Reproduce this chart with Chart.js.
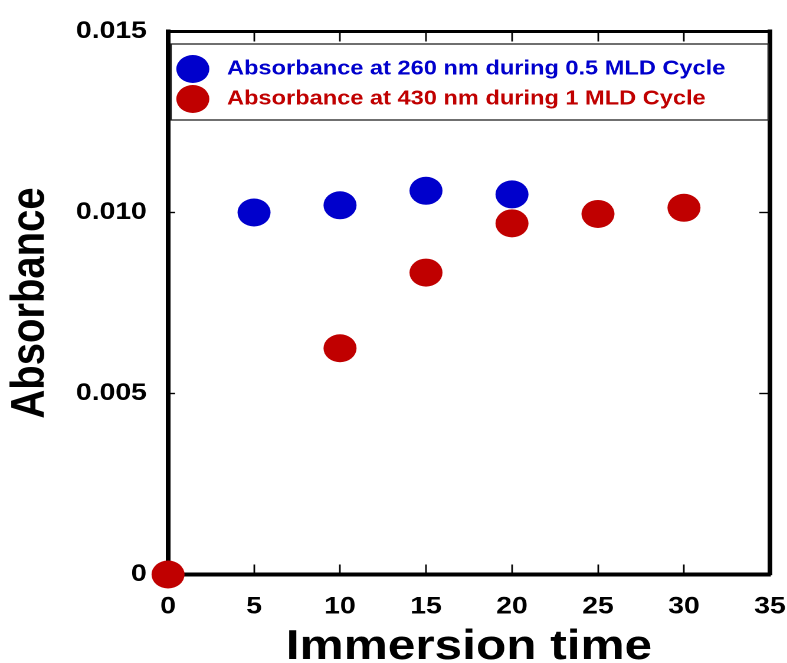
<!DOCTYPE html>
<html>
<head>
<meta charset="utf-8">
<script src="https://cdn.jsdelivr.net/npm/chart.js@4/dist/chart.umd.min.js"></script>
<style>
  html, body { margin: 0; padding: 0; background: #fff; overflow: hidden; }
  /* the original figure is stretched sideways, so draw narrow and stretch */
  #wrap { width: 667px; height: 663px; transform: scaleX(1.18); transform-origin: 0 0; }
</style>
</head>
<body>
<div id="wrap"><canvas id="absChart"></canvas></div>
<script>
// data
const times260 = [5, 10, 15, 20];
const abs260 = [0.0100, 0.0102, 0.0106, 0.0105];
const times430 = [0, 10, 15, 20, 25, 30];
const abs430 = [0, 0.00625, 0.00834, 0.0097, 0.00996, 0.01013];

const label260 = 'Absorbance at 260 nm during 0.5 MLD Cycle';
const label430 = 'Absorbance at 430 nm during 1 MLD Cycle';

const xTickLabels = ['0', '5', '10', '15', '20', '25', '30', '35'];
const yTickLabels = ['0', '0.005', '0.010', '0.015'];

const toPoints = (xs, ys) => xs.map((x, i) => ({ x: x, y: ys[i] }));

Chart.defaults.font.family = '"Liberation Sans", Arial, sans-serif';
Chart.defaults.font.weight = 'bold';
Chart.defaults.color = '#000';

// fixed axis sizes, and no extra room for the end labels
const fixSize = (w, h) => s => {
  if (w !== null) s.width = w;
  if (h !== null) s.height = h;
  s.paddingLeft = s.paddingRight = s.paddingTop = s.paddingBottom = 0;
};

// legend in a white box inside the plot frame
const boxLegend = {
  id: 'boxLegend',
  afterDatasetsDraw(chart) {
    const { ctx, chartArea } = chart;
    const left = chartArea.left + 2.5;
    const right = chartArea.right - 1.5;
    ctx.save();
    ctx.fillStyle = '#fff';
    ctx.fillRect(left, 44, right - left, 76);
    ctx.strokeStyle = '#222';
    ctx.lineWidth = 1.3;
    ctx.strokeRect(left, 44, right - left, 76);
    ctx.font = 'bold 20px "Liberation Sans", Arial, sans-serif';
    ctx.textBaseline = 'middle';
    chart.data.datasets.forEach((ds, i) => {
      const y = 69 + i * 30;
      ctx.fillStyle = ds.backgroundColor;
      ctx.beginPath();
      ctx.arc(chartArea.left + 21, y, 14, 0, Math.PI * 2);
      ctx.fill();
      ctx.fillText(ds.label, chartArea.left + 50, y);
    });
    ctx.restore();
  }
};

const ctx = document.getElementById('absChart').getContext('2d');
new Chart(ctx, {
  type: 'scatter',
  data: {
    datasets: [
      {
        label: label260,
        data: toPoints(times260, abs260),
        backgroundColor: '#0000cc',
        borderWidth: 0,
        pointRadius: 14,
        pointHoverRadius: 14,
        clip: false
      },
      {
        label: label430,
        data: toPoints(times430, abs430),
        backgroundColor: '#c00000',
        borderWidth: 0,
        pointRadius: 14,
        pointHoverRadius: 14,
        clip: false
      }
    ]
  },
  options: {
    responsive: true,
    maintainAspectRatio: false,
    devicePixelRatio: 2,
    animation: false,
    layout: { padding: 0 },
    plugins: {
      legend: { display: false },
      tooltip: { enabled: false }
    },
    scales: {
      x: {
        type: 'linear',
        position: 'bottom',
        min: 0,
        max: 35,
        ticks: {
          stepSize: 5,
          padding: 28,
          font: { size: 24, weight: 'bold' },
          callback: (v, i) => xTickLabels[i]
        },
        grid: { drawOnChartArea: false, tickLength: -10, tickColor: '#000', tickWidth: 1.4 },
        border: { display: true, color: '#000', width: 4 },
        title: {
          display: true,
          text: 'Immersion time',
          font: { size: 42, weight: 'bold', lineHeight: 0.75 },
          padding: 0
        },
        afterFit: fixSize(null, 88.5)
      },
      x2: {
        type: 'linear',
        position: 'top',
        min: 0,
        max: 35,
        ticks: { stepSize: 5, display: false },
        grid: { drawOnChartArea: false, tickLength: -10, tickColor: '#000', tickWidth: 1.4 },
        border: { display: true, color: '#000', width: 3 },
        afterFit: fixSize(null, 31.5)
      },
      y: {
        type: 'linear',
        position: 'left',
        min: 0,
        max: 0.015,
        ticks: {
          stepSize: 0.005,
          padding: 24,
          font: { size: 24, weight: 'bold' },
          callback: (v, i) => yTickLabels[i]
        },
        grid: { drawOnChartArea: false, tickLength: -6, tickColor: '#000', tickWidth: 1.4 },
        border: { display: true, color: '#000', width: 4 },
        title: {
          display: true,
          text: 'Absorbance',
          font: { size: 40, weight: 'bold', lineHeight: 1.3 },
          padding: 0
        },
        afterFit: fixSize(142.4, null)
      },
      y2: {
        type: 'linear',
        position: 'right',
        min: 0,
        max: 0.015,
        ticks: { stepSize: 0.005, display: false },
        grid: { drawOnChartArea: false, tickLength: -9, tickColor: '#000', tickWidth: 1.4 },
        border: { display: true, color: '#000', width: 4 },
        afterFit: fixSize(14.5, null)
      }
    }
  },
  plugins: [boxLegend]
});
</script>
</body>
</html>
